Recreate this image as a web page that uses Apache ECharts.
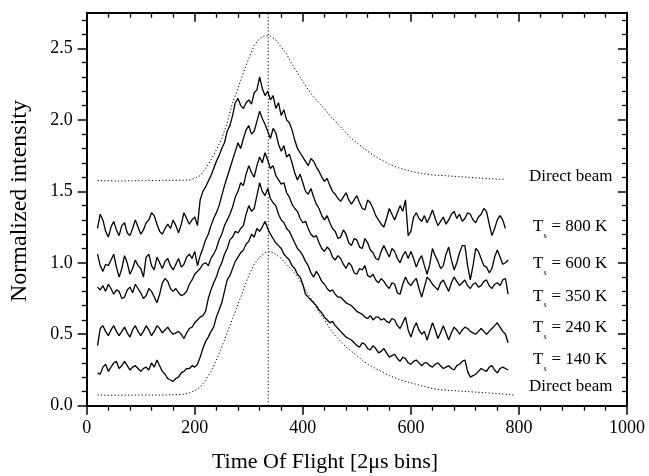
<!DOCTYPE html>
<html><head><meta charset="utf-8">
<script src="https://cdn.jsdelivr.net/npm/echarts@6/dist/echarts.min.js"></script>
<style>html,body{margin:0;padding:0;background:#fff}#c{width:649px;height:476px}</style>
</head><body><div id="c"></div>
<script>
// ---- data ----
const xs = [20,25,30,35,40,45,50,55,60,65,70,75,80,85,90,95,100,105,110,115,120,125,130,135,140,145,150,155,160,165,170,175,180,185,190,195,200,205,210,215,220,225,230,235,240,245,250,255,260,265,270,275,280,285,290,295,300,305,310,315,320,325,330,335,340,345,350,355,360,365,370,375,380,385,390,395,400,405,410,415,420,425,430,435,440,445,450,455,460,465,470,475,480,485,490,495,500,505,510,515,520,525,530,535,540,545,550,555,560,565,570,575,580,585,590,595,600,605,610,615,620,625,630,635,640,645,650,655,660,665,670,675,680,685,690,695,700,705,710,715,720,725,730,735,740,745,750,755,760,765,770,775,780];
const t800 = [1.24,1.34,1.30,1.22,1.18,1.25,1.29,1.23,1.19,1.26,1.28,1.21,1.19,1.24,1.30,1.25,1.20,1.23,1.28,1.30,1.35,1.33,1.27,1.22,1.20,1.24,1.27,1.24,1.30,1.26,1.21,1.27,1.35,1.31,1.27,1.30,1.32,1.26,1.44,1.50,1.53,1.57,1.61,1.66,1.71,1.75,1.80,1.84,1.92,1.96,2.03,2.12,2.15,2.10,2.08,2.12,2.14,2.11,2.19,2.21,2.30,2.22,2.17,2.20,2.14,2.17,2.08,2.12,2.03,2.07,2.00,1.98,1.93,1.86,1.80,1.77,1.74,1.71,1.68,1.73,1.71,1.67,1.64,1.60,1.57,1.59,1.54,1.50,1.48,1.45,1.43,1.46,1.49,1.44,1.41,1.44,1.47,1.42,1.38,1.37,1.44,1.42,1.38,1.33,1.30,1.27,1.25,1.31,1.38,1.34,1.30,1.35,1.40,1.36,1.44,1.19,1.22,1.32,1.35,1.31,1.29,1.33,1.28,1.32,1.37,1.31,1.26,1.29,1.32,1.27,1.30,1.34,1.36,1.31,1.34,1.29,1.31,1.35,1.34,1.30,1.28,1.32,1.34,1.38,1.36,1.27,1.19,1.24,1.30,1.33,1.30,1.24,null];
const t600 = [1.06,0.98,0.94,0.99,0.98,1.02,1.06,0.97,0.90,0.96,1.05,1.00,0.92,0.96,1.02,0.98,0.96,0.90,1.04,1.06,0.98,0.95,1.04,1.00,0.96,1.01,1.03,0.98,0.95,0.99,1.03,0.97,0.99,1.04,1.06,1.03,1.08,0.98,1.05,1.10,1.16,1.20,1.26,1.31,1.35,1.40,1.47,1.54,1.60,1.66,1.72,1.78,1.84,1.80,1.87,1.93,1.96,1.90,1.92,1.99,2.06,2.01,1.97,1.92,1.87,1.94,1.91,1.83,1.78,1.82,1.74,1.76,1.70,1.63,1.58,1.62,1.56,1.50,1.48,1.52,1.46,1.41,1.38,1.33,1.30,1.33,1.28,1.24,1.22,1.17,1.18,1.23,1.20,1.14,1.12,1.17,1.16,1.11,1.10,1.17,1.14,1.09,1.07,1.03,1.02,1.08,1.12,1.08,1.04,1.10,1.08,1.03,1.00,1.05,1.08,1.03,1.08,1.03,0.97,1.02,1.05,0.98,0.92,0.99,1.10,1.05,1.01,0.96,0.98,1.06,1.11,1.02,0.95,1.00,1.07,1.12,1.12,0.98,0.88,0.98,1.10,1.08,1.03,0.98,0.97,0.93,0.96,1.04,1.09,1.04,0.99,1.00,1.02];
const t350 = [0.83,0.81,0.84,0.80,0.85,0.82,0.78,0.81,0.80,0.75,0.76,0.81,0.83,0.79,0.85,0.82,0.79,0.75,0.77,0.82,0.80,0.76,0.72,0.78,0.86,0.89,0.87,0.82,0.80,0.82,0.79,0.77,0.78,0.80,0.85,0.88,0.92,0.94,0.96,0.99,1.00,0.98,1.03,1.06,1.10,1.16,1.20,1.26,1.30,1.34,1.39,1.46,1.50,1.56,1.54,1.62,1.68,1.63,1.60,1.68,1.74,1.70,1.77,1.72,1.66,1.68,1.61,1.58,1.55,1.56,1.49,1.46,1.41,1.38,1.36,1.31,1.28,1.29,1.24,1.20,1.18,1.19,1.14,1.10,1.08,1.11,1.09,1.04,1.02,1.05,1.03,0.99,0.96,1.00,0.98,0.93,0.92,0.96,0.95,0.98,0.91,0.90,0.92,0.88,0.86,0.89,0.87,0.84,0.82,0.86,0.85,0.79,0.78,0.85,0.90,0.86,0.84,0.87,0.89,0.82,0.76,0.83,0.90,0.88,0.85,0.83,0.81,0.86,0.88,0.84,0.80,0.86,0.90,0.87,0.84,0.86,0.88,0.84,0.82,0.85,0.86,0.83,0.84,0.87,0.88,0.84,0.82,0.85,0.86,0.84,0.88,0.89,0.78];
const t240 = [0.42,0.54,0.56,0.52,0.49,0.53,0.56,0.52,0.49,0.52,0.55,0.51,0.48,0.53,0.56,0.52,0.49,0.52,0.56,0.53,0.49,0.52,0.56,0.54,0.51,0.53,0.55,0.52,0.50,0.51,0.52,0.50,0.47,0.51,0.54,0.55,0.58,0.60,0.62,0.63,0.66,0.75,0.81,0.86,0.90,0.96,1.00,1.06,1.10,1.16,1.18,1.22,1.21,1.24,1.26,1.34,1.40,1.36,1.38,1.47,1.56,1.50,1.47,1.52,1.45,1.42,1.40,1.34,1.30,1.28,1.24,1.22,1.18,1.14,1.10,1.08,1.05,1.01,0.98,0.93,0.90,0.94,0.91,0.87,0.85,0.82,0.80,0.81,0.78,0.76,0.76,0.74,0.72,0.71,0.70,0.68,0.66,0.65,0.64,0.62,0.61,0.63,0.60,0.62,0.62,0.60,0.61,0.59,0.58,0.61,0.60,0.56,0.54,0.58,0.62,0.53,0.48,0.54,0.58,0.53,0.50,0.52,0.46,0.52,0.58,0.53,0.47,0.51,0.56,0.51,0.46,0.51,0.55,0.53,0.50,0.53,0.55,0.54,0.52,0.51,0.50,0.52,0.54,0.52,0.50,0.52,0.54,0.56,0.58,0.55,0.52,0.50,0.44];
const t140 = [0.23,0.22,0.27,0.29,0.24,0.27,0.30,0.31,0.26,0.28,0.31,0.28,0.25,0.27,0.28,0.26,0.24,0.26,0.27,0.25,0.30,0.27,0.32,0.28,0.24,0.22,0.19,0.18,0.17,0.19,0.20,0.23,0.24,0.26,0.26,0.28,0.27,0.29,0.34,0.40,0.45,0.48,0.52,0.55,0.62,0.67,0.72,0.80,0.88,0.91,0.96,1.01,1.04,1.07,1.09,1.13,1.15,1.20,1.18,1.24,1.22,1.25,1.29,1.24,1.20,1.17,1.14,1.12,1.10,1.06,1.04,1.02,0.98,0.96,0.92,0.90,0.85,0.78,0.76,0.74,0.72,0.70,0.67,0.65,0.62,0.60,0.58,0.59,0.56,0.54,0.52,0.50,0.48,0.47,0.46,0.44,0.42,0.41,0.44,0.43,0.40,0.39,0.42,0.40,0.37,0.38,0.40,0.37,0.34,0.35,0.36,0.33,0.31,0.34,0.33,0.30,0.29,0.31,0.32,0.30,0.28,0.30,0.30,0.28,0.27,0.29,0.30,0.28,0.26,0.27,0.28,0.26,0.25,0.28,0.29,0.31,0.32,0.24,0.20,0.21,0.22,0.24,0.26,0.25,0.24,0.27,0.28,0.25,0.23,0.26,0.27,0.26,0.25];
const dbTopX = [20,60,100,140,180,190,200,210,220,230,240,250,260,270,280,290,300,310,320,330,340,350,360,370,380,390,400,410,420,430,440,450,460,470,480,490,500,520,540,560,580,600,620,640,660,680,700,720,740,760,775];
const dbTop = [1.575,1.572,1.575,1.576,1.578,1.58,1.59,1.61,1.66,1.72,1.79,1.87,1.98,2.12,2.22,2.33,2.43,2.52,2.57,2.59,2.585,2.56,2.51,2.46,2.39,2.33,2.27,2.21,2.16,2.12,2.08,2.03,1.99,1.95,1.91,1.87,1.84,1.78,1.73,1.69,1.66,1.64,1.625,1.615,1.61,1.605,1.60,1.595,1.59,1.585,1.585];
const dbBotX = [20,60,100,140,180,190,200,210,220,230,240,250,260,270,280,290,300,310,320,330,340,350,360,370,380,390,400,410,420,430,440,450,460,470,480,490,500,520,540,560,580,600,620,640,660,680,700,720,740,760,790];
const dbBot = [0.075,0.073,0.075,0.074,0.08,0.09,0.105,0.13,0.18,0.24,0.32,0.41,0.51,0.61,0.71,0.81,0.91,0.99,1.04,1.07,1.08,1.06,1.03,0.99,0.95,0.90,0.84,0.78,0.72,0.655,0.60,0.54,0.49,0.45,0.41,0.38,0.35,0.29,0.25,0.21,0.18,0.16,0.14,0.12,0.11,0.105,0.10,0.095,0.09,0.085,0.075];
const peakLineX = 336;
const yTickLabels = ['0.0','0.5','1.0','1.5','2.0','2.5'];
const xTickLabels = ['0','200','400','600','800','1000'];
const curveLabels = [
  {txt:'Direct beam', y:176.7},
  {temp:'800 K', y:227},
  {temp:'600 K', y:264},
  {temp:'350 K', y:296.7},
  {temp:'240 K', y:328},
  {temp:'140 K', y:360},
  {txt:'Direct beam', y:387}
];

[t800,t600,t350,t240,t140].forEach((a,i)=>{ if (a.length !== xs.length) throw new Error('length mismatch in curve '+i+': '+a.length+' vs '+xs.length); });
if (dbTop.length !== dbTopX.length || dbBot.length !== dbBotX.length) throw new Error('beam length mismatch');

// ---- chart ----
const F = '"Liberation Serif","Times New Roman",serif';
const chart = echarts.init(document.getElementById('c'), null, {renderer:'canvas'});
const zip = (x, y) => x.map((v, i) => [v, y[i]]);
const solid = d => ({type:'line', data:d, symbol:'none', silent:true, animation:false, connectNulls:false,
  lineStyle:{color:'#000', width:1.3}});
const dotted = d => ({type:'line', data:d, symbol:'none', silent:true, animation:false,
  lineStyle:{color:'#000', width:1, type:[1.2,2.2]}});

const axisBase = {
  axisLine:{show:true, onZero:false, lineStyle:{color:'#000', width:2}},
  splitLine:{show:false},
  minorSplitLine:{show:false}
};
const yFmt = v => { const i = Math.round(v*2); return Math.abs(v*2 - i) < 1e-6 && i <= 5 ? yTickLabels[i] : ''; };
const xFmt = v => xTickLabels[Math.round(v/200)] || '';

const graphics = [
  {type:'text', x:20, y:201, rotation:Math.PI/2, style:{text:'Normalized intensity', font:'24px '+F, fill:'#000', align:'center', verticalAlign:'middle'}},
  {type:'text', x:325, y:462, style:{text:'Time Of Flight [2\u03BCs bins]', font:'22px '+F, fill:'#000', align:'center', verticalAlign:'middle'}}
];
curveLabels.forEach(l => {
  if (l.txt) {
    graphics.push({type:'text', x:529, y:l.y, style:{text:l.txt, font:'17px '+F, fill:'#000', align:'left', verticalAlign:'middle'}});
  } else {
    graphics.push({type:'text', x:533, y:l.y, style:{text:'T', font:'17px '+F, fill:'#000', align:'left', verticalAlign:'middle'}});
    graphics.push({type:'text', x:543.5, y:l.y+8.5, style:{text:'s', font:'8px '+F, fill:'#000', align:'left', verticalAlign:'middle'}});
    graphics.push({type:'text', x:551.5, y:l.y, style:{text:'= ' + l.temp, font:'17px '+F, fill:'#000', align:'left', verticalAlign:'middle'}});
  }
});

chart.setOption({
  animation:false,
  backgroundColor:'#fff',
  grid:{left:86.7, right:22, top:12.7, bottom:70.3, containLabel:false},
  xAxis:[
    Object.assign({type:'value', min:0, max:1000, interval:200, position:'bottom',
      axisTick:{show:true, inside:false, length:9, lineStyle:{color:'#000', width:1.5}},
      minorTick:{show:true, splitNumber:5, length:5, lineStyle:{color:'#000', width:1.3}},
      axisLabel:{show:true, formatter:xFmt, fontFamily:F, fontSize:18, color:'#000', margin:14}}, axisBase),
    Object.assign({type:'value', min:0, max:1000, interval:200, position:'top',
      axisTick:{show:true, inside:true, length:9, lineStyle:{color:'#000', width:1.5}},
      minorTick:{show:true, splitNumber:5, length:5, lineStyle:{color:'#000', width:1.3}},
      axisLabel:{show:false}}, axisBase)
  ],
  yAxis:[
    Object.assign({type:'value', min:0, max:2.75, interval:0.5, position:'left',
      axisTick:{show:true, inside:false, length:9, lineStyle:{color:'#000', width:1.5}, customValues:[0,0.5,1,1.5,2,2.5]},
      minorTick:{show:true, splitNumber:5, length:5, lineStyle:{color:'#000', width:1.3}},
      axisLabel:{show:true, formatter:yFmt, fontFamily:F, fontSize:18, color:'#000', margin:14, customValues:[0,0.5,1,1.5,2,2.5]}}, axisBase),
    Object.assign({type:'value', min:0, max:2.75, interval:0.5, position:'right',
      axisTick:{show:true, inside:true, length:9, lineStyle:{color:'#000', width:1.5}, customValues:[0,0.5,1,1.5,2,2.5]},
      minorTick:{show:true, splitNumber:5, length:5, lineStyle:{color:'#000', width:1.3}},
      axisLabel:{show:false}}, axisBase)
  ],
  series:[
    dotted(zip(dbTopX, dbTop)),
    solid(zip(xs, t800)),
    solid(zip(xs, t600)),
    solid(zip(xs, t350)),
    solid(zip(xs, t240)),
    solid(zip(xs, t140)),
    dotted(zip(dbBotX, dbBot)),
    dotted([[peakLineX, 0], [peakLineX, 2.75]])
  ],
  graphic: graphics
});
</script></body></html>
